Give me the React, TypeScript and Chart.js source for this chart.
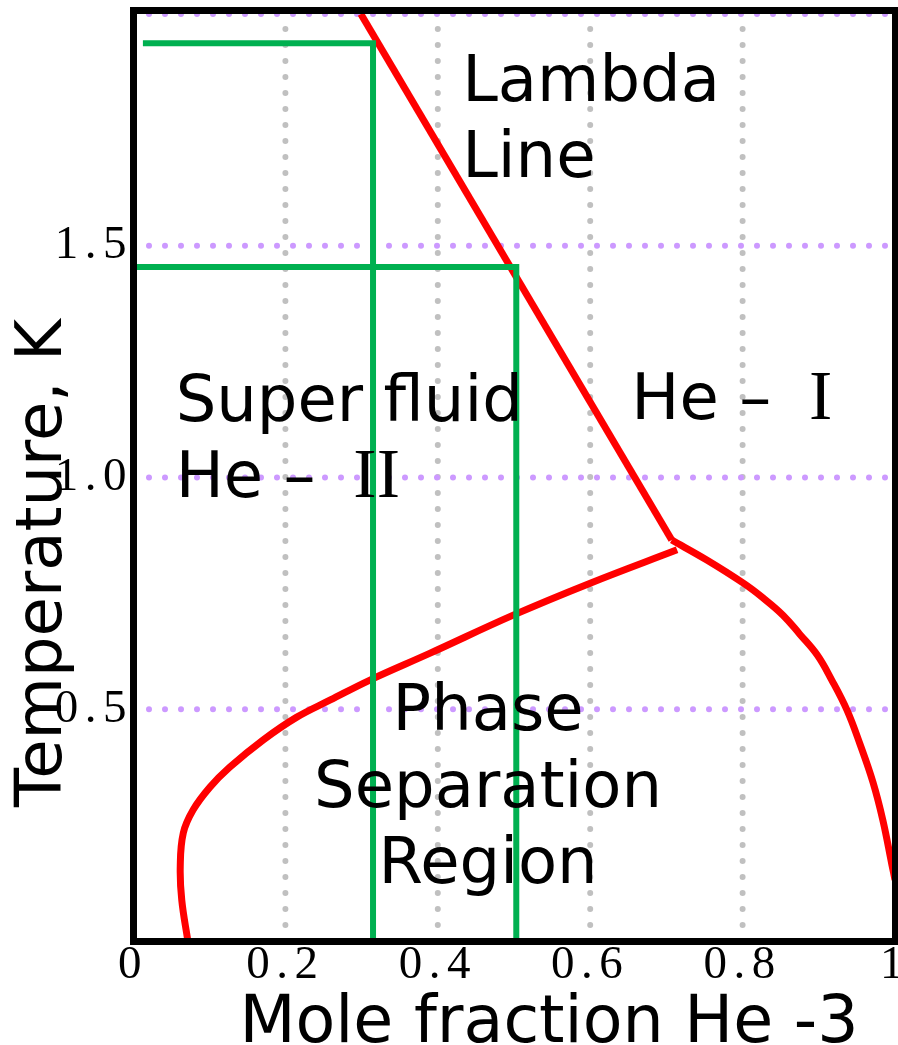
import React, { useEffect, useRef } from 'react';
import { Chart, registerables } from 'chart.js';

Chart.register(...registerables);

// ---- Axis ticks / grid ----
const xTickValues = [0, 0.2, 0.4, 0.6, 0.8, 1];
const xTickLabels = ['0', '0.2', '0.4', '0.6', '0.8', '1'];
const yTickValues = [0.5, 1.0, 1.5];
const yTickLabels = ['0.5', '1.0', '1.5'];
const xGridValues = [0.2, 0.4, 0.6, 0.8];
const yGridValues = [0.5, 1.0, 1.5, 2.0];

// ---- Curves (x = mole fraction He-3, y = temperature K) ----
const lambdaX = [0.299, 0.707];
const lambdaY = [2.0, 0.865];

const sepLeftX = [0.072, 0.064, 0.062, 0.066, 0.079, 0.101, 0.127, 0.171, 0.215, 0.259, 0.311, 0.390, 0.499, 0.600, 0.714];
const sepLeftY = [0.0, 0.088, 0.160, 0.233, 0.283, 0.332, 0.375, 0.434, 0.483, 0.520, 0.563, 0.621, 0.703, 0.772, 0.844];

const sepRightX = [0.707, 0.753, 0.801, 0.827, 0.853, 0.875, 0.898, 0.917, 0.937, 0.954, 0.971, 0.984, 0.996, 1.0];
const sepRightY = [0.865, 0.822, 0.772, 0.740, 0.703, 0.662, 0.617, 0.563, 0.498, 0.425, 0.343, 0.261, 0.164, 0.132];

const path1X = [0.013, 0.315, 0.315];
const path1Y = [1.937, 1.937, 0];
const path2X = [0, 0.503, 0.503];
const path2Y = [1.454, 1.454, 0];

// ---- Region labels (data coordinates); suffix drawn in a serif face ----
const labelTexts = ['Lambda', 'Line', 'Super fluid', 'He – ', 'He – ', 'Phase', 'Separation', 'Region'];
const labelSuffix = ['', '', '', ' II', ' I', '', '', ''];
const labelX = [0.432, 0.432, 0.056, 0.056, 0.654, 0.466, 0.466, 0.466];
const labelY = [1.812, 1.648, 1.122, 0.958, 1.126, 0.455, 0.289, 0.125];
const labelAlign = ['left', 'left', 'left', 'left', 'left', 'center', 'center', 'center'];

const xAxisTitle = 'Mole fraction He -3';
const yAxisTitle = 'Temperature, K';

const pts = (xs: number[], ys: number[]) => xs.map((x, i) => ({ x, y: ys[i] }));

const RED = '#ff0000';
const GREEN = '#00b050';
const SANS = '"DejaVu Sans", Verdana, sans-serif';
const SERIF = '"Liberation Serif", "Times New Roman", serif';

const lineDs = (label: string, data: any[], color: string, width: number, tension: number) => ({
  label,
  data,
  showLine: true,
  borderColor: color,
  backgroundColor: color,
  borderWidth: width,
  pointRadius: 0,
  pointHoverRadius: 0,
  tension,
  fill: false,
  borderCapStyle: 'butt',
  borderJoinStyle: 'miter',
});

const gridPlugin = {
  id: 'dottedGrid',
  beforeDraw(chart: any) {
    chart.ctx.letterSpacing = '6.5px';
  },
  beforeDatasetsDraw(chart: any) {
    const { ctx, chartArea, scales } = chart;
    const { left, right, top, bottom } = chartArea;
    ctx.save();
    ctx.lineCap = 'round';
    ctx.lineWidth = 6;
    ctx.setLineDash([0, 16]);
    ctx.strokeStyle = '#c0c0c0';
    xGridValues.forEach((v) => {
      const px = scales.x.getPixelForValue(v);
      ctx.beginPath();
      ctx.moveTo(px, bottom);
      ctx.lineTo(px, top);
      ctx.stroke();
    });
    ctx.strokeStyle = '#cc99ff';
    yGridValues.forEach((v) => {
      const py = scales.y.getPixelForValue(v);
      ctx.beginPath();
      ctx.moveTo(left, py);
      ctx.lineTo(right, py);
      ctx.stroke();
    });
    ctx.restore();
  },
  afterDraw(chart: any) {
    const { ctx, chartArea, scales } = chart;
    const { left, right, top, bottom } = chartArea;
    ctx.letterSpacing = '0px';
    ctx.save();
    ctx.fillStyle = '#000';
    ctx.textBaseline = 'alphabetic';
    labelTexts.forEach((t, i) => {
      const px = scales.x.getPixelForValue(labelX[i]);
      const py = scales.y.getPixelForValue(labelY[i]);
      ctx.font = `64px ${SANS}`;
      ctx.textAlign = labelAlign[i];
      ctx.fillText(t, px, py);
      if (labelSuffix[i]) {
        const w = ctx.measureText(t).width;
        ctx.font = `70px ${SERIF}`;
        ctx.textAlign = 'left';
        ctx.fillText(labelSuffix[i], px + w, py);
      }
    });
    ctx.strokeStyle = '#000';
    ctx.lineWidth = 7;
    ctx.lineJoin = 'miter';
    ctx.setLineDash([]);
    ctx.strokeRect(left + 0.5, top - 3.5, right - left, bottom - top + 4);
    ctx.font = `65px ${SANS}`;
    ctx.textAlign = 'center';
    ctx.fillText(xAxisTitle, 549, 1042);
    ctx.save();
    ctx.translate(61, 563);
    ctx.rotate(-Math.PI / 2);
    ctx.font = `64px ${SANS}`;
    ctx.fillText(yAxisTitle, 0, 0);
    ctx.restore();
    ctx.restore();
  },
};

export default function App() {
  const ref = useRef<HTMLCanvasElement | null>(null);

  useEffect(() => {
    if (!ref.current) return;
    const chart = new Chart(ref.current, {
      type: 'line',
      data: {
        datasets: [
          lineDs('Path A', pts(path1X, path1Y), GREEN, 6, 0),
          lineDs('Path B', pts(path2X, path2Y), GREEN, 6, 0),
          lineDs('Lambda line', pts(lambdaX, lambdaY), RED, 7, 0),
          lineDs('Separation (He-4 rich)', pts(sepLeftX, sepLeftY), RED, 7, 0.4),
          lineDs('Separation (He-3 rich)', pts(sepRightX, sepRightY), RED, 7, 0.4),
        ] as any,
      },
      options: {
        responsive: false,
        animation: false,
        devicePixelRatio: 1,
        layout: { padding: { top: 14, right: 3, left: 0, bottom: 0 } },
        plugins: { legend: { display: false }, tooltip: { enabled: false } },
        events: [],
        scales: {
          x: {
            type: 'linear',
            min: 0,
            max: 1,
            grid: { display: false, drawTicks: false },
            border: { display: false },
            ticks: {
              color: '#000',
              padding: 1,
              autoSkip: false,
              maxRotation: 0,
              font: { family: SERIF, size: 47, lineHeight: 1 },
              callback: (v: any) => {
                const i = xTickValues.findIndex((t) => Math.abs(t - v) < 1e-9);
                return i >= 0 ? xTickLabels[i] : '';
              },
            },
            afterBuildTicks: (s: any) => {
              s.ticks = xTickValues.map((v) => ({ value: v }));
            },
            afterFit: (s: any) => {
              s.height = 104;
              s.paddingLeft = 0;
              s.paddingRight = 0;
              s.paddingTop = 0;
              s.paddingBottom = 0;
            },
          },
          y: {
            type: 'linear',
            min: 0,
            max: 2,
            grid: { display: false, drawTicks: false },
            border: { display: false },
            ticks: {
              color: '#000',
              padding: 0,
              autoSkip: false,
              font: { family: SERIF, size: 47, lineHeight: 1 },
              callback: (v: any) => {
                const i = yTickValues.findIndex((t) => Math.abs(t - v) < 1e-9);
                return i >= 0 ? yTickLabels[i] : '';
              },
            },
            afterBuildTicks: (s: any) => {
              s.ticks = yTickValues.map((v) => ({ value: v }));
            },
            afterFit: (s: any) => {
              s.width = 133;
              s.paddingLeft = 0;
              s.paddingRight = 0;
              s.paddingTop = 0;
              s.paddingBottom = 0;
            },
          },
        },
      } as any,
      plugins: [gridPlugin as any],
    });
    return () => chart.destroy();
  }, []);

  return (
    <canvas
      ref={ref}
      width={898}
      height={1045}
      style={{ position: 'absolute', left: 0, top: 0, width: 898, height: 1045, background: '#fff' }}
    />
  );
}
